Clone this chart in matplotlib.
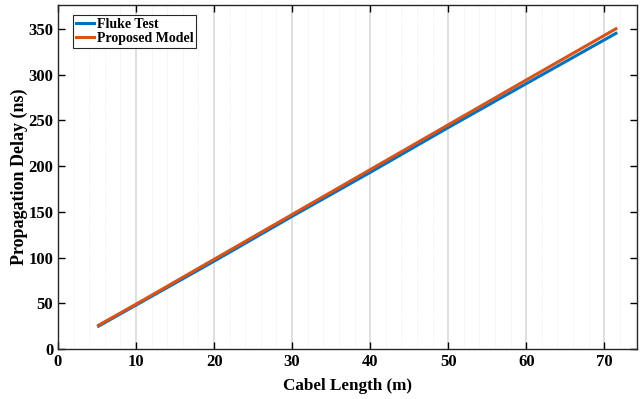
import numpy as np
import matplotlib.pyplot as plt
from matplotlib.ticker import MultipleLocator

# cable length (m) and measured / modelled delays (ns)
cable_len = [5.2, 10, 20, 30, 40, 50, 60, 71.5]
fluke_test = [25, 48, 96, 145, 193, 242, 290, 345]
proposed_model = [26, 49, 98, 147, 196, 245, 294, 350]

plt.rcParams['font.family'] = ['Liberation Serif', 'DejaVu Serif']
plt.rcParams['font.weight'] = 'bold'

fig = plt.figure(figsize=(6.4, 3.99), dpi=100)
ax = fig.add_axes([58 / 640, 50 / 399, 579 / 640, 344 / 399])

ax.plot(cable_len, fluke_test, color='#0072BD', lw=2.2, label='Fluke Test')
ax.plot(cable_len, proposed_model, color='#D95319', lw=2.2, label='Proposed Model')

ax.set_xlim(0, 74.2)
ax.set_ylim(0, 376)
ax.xaxis.set_major_locator(MultipleLocator(10))
ax.xaxis.set_minor_locator(MultipleLocator(2))
ax.yaxis.set_major_locator(MultipleLocator(50))

ax.grid(True, axis='x', which='major', color='#d9d9d9', lw=1.2)
ax.grid(True, axis='x', which='minor', color='#e6e6e6', lw=0.6, ls=':')
ax.set_axisbelow(True)

ax.tick_params(which='major', direction='in', top=True, right=True, length=5,
               labelsize=12, width=1)
ax.tick_params(which='minor', length=0)
for lbl in ax.get_xticklabels() + ax.get_yticklabels():
    lbl.set_fontweight('bold')
for s in ax.spines.values():
    s.set_linewidth(1)
    s.set_color('#262626')

ax.set_xlabel('Cabel Length (m)', fontsize=12.3, fontweight='bold', labelpad=6)
ax.set_ylabel('Propagation Delay (ns)', fontsize=13, fontweight='bold', labelpad=0)

leg = ax.legend(loc='upper left', fontsize=10, handlelength=1.3, handletextpad=0.2,
                borderpad=0.2, labelspacing=0.1, fancybox=False, framealpha=1,
                borderaxespad=0, bbox_to_anchor=(15 / 579, 1 - 10 / 344))
leg.get_frame().set_edgecolor('#262626')
leg.get_frame().set_linewidth(0.8)

fig.savefig('out.png', dpi=100)
